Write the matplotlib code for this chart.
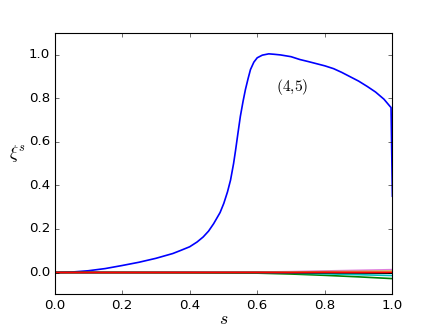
import matplotlib
matplotlib.use('Agg')
import matplotlib.pyplot as plt

plt.style.use('classic')
plt.rcParams['mathtext.fontset'] = 'cm'

# blue curve
s_main = [0, 0.05, 0.1, 0.15, 0.2, 0.25, 0.3, 0.35, 0.373, 0.4, 0.422, 0.44,
          0.456, 0.471, 0.49, 0.501, 0.512, 0.521, 0.53, 0.536, 0.543, 0.55,
          0.558, 0.565, 0.573, 0.58, 0.59, 0.6, 0.615, 0.634, 0.65, 0.669,
          0.7, 0.726, 0.75, 0.8, 0.826, 0.85, 0.9, 0.926, 0.95, 0.975,
          0.994, 0.996, 1.0]
xi_main = [0, 0.002, 0.008, 0.018, 0.032, 0.047, 0.065, 0.087, 0.101, 0.118,
           0.14, 0.163, 0.19, 0.224, 0.275, 0.317, 0.37, 0.424, 0.5, 0.562,
           0.64, 0.716, 0.785, 0.839, 0.89, 0.931, 0.965, 0.985, 0.997,
           1.003, 1.001, 0.998, 0.99, 0.977, 0.968, 0.948, 0.935, 0.918,
           0.878, 0.853, 0.828, 0.795, 0.76, 0.757, 0.35]

# small components near zero
s_small = [0, 0.2, 0.4, 0.6, 0.7, 0.8, 0.9, 1.0]
xi_green = [0, 0, -0.001, -0.003, -0.007, -0.013, -0.02, -0.028]
xi_cyan = [0, 0, 0, -0.001, -0.003, -0.006, -0.01, -0.014]
xi_magenta = [0, 0, 0.001, 0.002, 0.004, 0.007, 0.01, 0.013]
xi_yellow = [0, 0, 0, 0.001, 0.002, 0.004, 0.005, 0.007]
xi_black = [0, 0, 0, 0, -0.001, -0.001, -0.002, -0.003]
xi_red = [0, 0, 0, 0, 0, 0.001, 0.001, 0.001]

fig = plt.figure(figsize=(5.45, 4.0875), dpi=80)
ax = fig.add_subplot(111)
ax.plot(s_main, xi_main, color='b', lw=1.5)
ax.plot(s_small, xi_green, color='g', lw=1.5)
ax.plot(s_small, xi_cyan, color='c', lw=1.5)
ax.plot(s_small, xi_magenta, color='m', lw=1.5, alpha=0.5)
ax.plot(s_small, xi_yellow, color='y', lw=1.5, alpha=0.6)
ax.plot(s_small, xi_black, color='k', lw=1.5)
ax.plot(s_small, xi_red, color='r', lw=1.5)

ax.set_xlim(0, 1)
ax.set_ylim(-0.1, 1.1)
ax.set_xticks([0, 0.2, 0.4, 0.6, 0.8, 1.0])
ax.set_yticks([0, 0.2, 0.4, 0.6, 0.8, 1.0])
ax.set_xlabel(r'$s$', fontsize=16, labelpad=-2)
ax.set_ylabel(r'$\xi^s$', fontsize=16, rotation=0, labelpad=10)
ax.text(0.704, 0.85, r'$(4{,}5)$', fontsize=14, ha='center', va='center')

plt.savefig('out.png', dpi=80)
